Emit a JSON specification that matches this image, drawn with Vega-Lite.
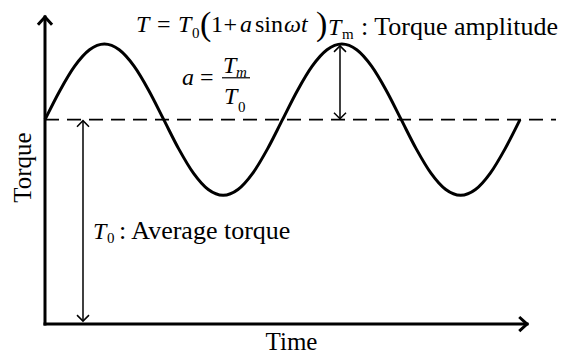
{
  "$schema": "https://vega.github.io/schema/vega-lite/v6.json",
  "width": 573,
  "height": 355,
  "padding": 0,
  "autosize": {"type": "fit", "contains": "padding"},
  "background": "white",
  "config": {"view": {"stroke": null}},
  "datasets": {
    "wave": [
      {"time": 0.0, "torque": 1.0},
      {"time": 0.0625, "torque": 1.1416},
      {"time": 0.125, "torque": 1.2616},
      {"time": 0.1875, "torque": 1.3418},
      {"time": 0.25, "torque": 1.37},
      {"time": 0.3125, "torque": 1.3418},
      {"time": 0.375, "torque": 1.2616},
      {"time": 0.4375, "torque": 1.1416},
      {"time": 0.5, "torque": 1.0},
      {"time": 0.5625, "torque": 0.8584},
      {"time": 0.625, "torque": 0.7384},
      {"time": 0.6875, "torque": 0.6582},
      {"time": 0.75, "torque": 0.63},
      {"time": 0.8125, "torque": 0.6582},
      {"time": 0.875, "torque": 0.7384},
      {"time": 0.9375, "torque": 0.8584},
      {"time": 1.0, "torque": 1.0},
      {"time": 1.0625, "torque": 1.1416},
      {"time": 1.125, "torque": 1.2616},
      {"time": 1.1875, "torque": 1.3418},
      {"time": 1.25, "torque": 1.37},
      {"time": 1.3125, "torque": 1.3418},
      {"time": 1.375, "torque": 1.2616},
      {"time": 1.4375, "torque": 1.1416},
      {"time": 1.5, "torque": 1.0},
      {"time": 1.5625, "torque": 0.8584},
      {"time": 1.625, "torque": 0.7384},
      {"time": 1.6875, "torque": 0.6582},
      {"time": 1.75, "torque": 0.63},
      {"time": 1.8125, "torque": 0.6582},
      {"time": 1.875, "torque": 0.7384},
      {"time": 1.9375, "torque": 0.8584},
      {"time": 2.0, "torque": 1.0}
    ],
    "segments": [
      {"part": "axis", "time": 0, "time2": 0, "torque": 0, "torque2": 1.5024},
      {"part": "axis", "time": 0, "time2": 2.0295, "torque": 0, "torque2": 0},
      {"part": "mean", "time": 0, "time2": 2.1516, "torque": 1, "torque2": 1},
      {"part": "dim", "time": 0.16, "time2": 0.16, "torque": 0.0146, "torque2": 0.9951},
      {"part": "dim", "time": 1.2421, "time2": 1.2421, "torque": 1.0049, "torque2": 1.361},
      {"part": "bar", "time": 0.7453, "time2": 0.8632, "torque": 1.2049, "torque2": 1.2049}
    ],
    "heads": [
      {"kind": "axis", "dir": "up", "time": 0, "torque": 1.5024},
      {"kind": "axis", "dir": "right", "time": 2.0295, "torque": 0},
      {"kind": "dim", "dir": "down", "time": 0.16, "torque": 0.0146},
      {"kind": "dim", "dir": "up", "time": 0.16, "torque": 0.9951},
      {"kind": "dim", "dir": "up", "time": 1.2421, "torque": 1.361},
      {"kind": "dim", "dir": "down", "time": 1.2421, "torque": 1.0049}
    ],
    "texts": [
      {"piece": "T", "time": 0.3832, "torque": 1.4293, "style": "var"},
      {"piece": "=", "time": 0.4716, "torque": 1.4293, "style": "rm"},
      {"piece": "T", "time": 0.56, "torque": 1.4293, "style": "var"},
      {"piece": "0", "time": 0.6189, "torque": 1.4, "style": "sub"},
      {"piece": "(", "time": 0.6526, "torque": 1.4146, "style": "paren"},
      {"piece": "1", "time": 0.6989, "torque": 1.4293, "style": "rm"},
      {"piece": "+", "time": 0.7516, "torque": 1.4293, "style": "rm"},
      {"piece": "a", "time": 0.8211, "torque": 1.4293, "style": "var"},
      {"piece": "sin", "time": 0.8842, "torque": 1.4293, "style": "rm"},
      {"piece": "ωt", "time": 1.0063, "torque": 1.4293, "style": "var"},
      {"piece": ")", "time": 1.1411, "torque": 1.4146, "style": "paren"},
      {"piece": "a", "time": 0.5768, "torque": 1.1707, "style": "var"},
      {"piece": "=", "time": 0.6526, "torque": 1.1707, "style": "rm"},
      {"piece": "T", "time": 0.7495, "torque": 1.2293, "style": "var"},
      {"piece": "m", "time": 0.8042, "torque": 1.2098, "style": "subvar"},
      {"piece": "T", "time": 0.7537, "torque": 1.078, "style": "var"},
      {"piece": "0", "time": 0.8126, "torque": 1.039, "style": "sub"},
      {"piece": "T", "time": 1.1916, "torque": 1.4146, "style": "var"},
      {"piece": "m", "time": 1.2505, "torque": 1.3951, "style": "sub"},
      {"piece": ": Torque amplitude", "time": 1.3305, "torque": 1.4146, "style": "label"},
      {"piece": "T", "time": 0.2021, "torque": 0.4146, "style": "var"},
      {"piece": "0", "time": 0.2611, "torque": 0.3951, "style": "sub"},
      {"piece": ": Average torque", "time": 0.3116, "torque": 0.4146, "style": "label"},
      {"piece": "Time", "time": 1.0379, "torque": -0.1268, "style": "xtitle"},
      {"piece": "Torque", "time": -0.0926, "torque": 0.7659, "style": "ytitle"}
    ]
  },
  "encoding": {
    "x": {"field": "time", "type": "quantitative", "axis": null,
          "scale": {"domain": [-0.18947, 2.22316], "nice": false, "zero": false}},
    "y": {"field": "torque", "type": "quantitative", "axis": null,
          "scale": {"domain": [-0.14634, 1.58537], "nice": false, "zero": false}}
  },
  "layer": [
    {
      "data": {"name": "segments"},
      "transform": [{"filter": "datum.part === 'mean'"}],
      "mark": {"type": "rule", "color": "black", "strokeWidth": 1.8, "strokeDash": [14, 8]},
      "encoding": {"x2": {"field": "time2"}, "y2": {"field": "torque2"}}
    },
    {
      "data": {"name": "wave"},
      "mark": {"type": "line", "color": "black", "strokeWidth": 3, "interpolate": "monotone"}
    },
    {
      "data": {"name": "segments"},
      "transform": [{"filter": "datum.part === 'axis'"}],
      "mark": {"type": "rule", "color": "black", "strokeWidth": 3, "strokeCap": "square"},
      "encoding": {"x2": {"field": "time2"}, "y2": {"field": "torque2"}}
    },
    {
      "data": {"name": "segments"},
      "transform": [{"filter": "datum.part === 'dim'"}],
      "mark": {"type": "rule", "color": "black", "strokeWidth": 1.5},
      "encoding": {"x2": {"field": "time2"}, "y2": {"field": "torque2"}}
    },
    {
      "data": {"name": "segments"},
      "transform": [{"filter": "datum.part === 'bar'"}],
      "mark": {"type": "rule", "color": "black", "strokeWidth": 1.2},
      "encoding": {"x2": {"field": "time2"}, "y2": {"field": "torque2"}}
    },
    {
      "data": {"name": "heads"},
      "transform": [{"filter": "datum.kind === 'axis' && datum.dir === 'up'"}],
      "mark": {"type": "point", "shape": "M-1,1.1L0,0L1,1.1", "filled": false, "color": "black", "stroke": "black",
               "strokeWidth": 3, "size": 200, "opacity": 1, "angle": 0}
    },
    {
      "data": {"name": "heads"},
      "transform": [{"filter": "datum.kind === 'axis' && datum.dir === 'right'"}],
      "mark": {"type": "point", "shape": "M-1,1.1L0,0L1,1.1", "filled": false, "color": "black", "stroke": "black",
               "strokeWidth": 3, "size": 200, "opacity": 1, "angle": 90}
    },
    {
      "data": {"name": "heads"},
      "transform": [{"filter": "datum.kind === 'dim' && datum.dir === 'up'"}],
      "mark": {"type": "point", "shape": "M-1,1L0,0L1,1", "filled": false, "color": "black", "stroke": "black",
               "strokeWidth": 1.5, "size": 144, "opacity": 1, "angle": 0}
    },
    {
      "data": {"name": "heads"},
      "transform": [{"filter": "datum.kind === 'dim' && datum.dir === 'down'"}],
      "mark": {"type": "point", "shape": "M-1,1L0,0L1,1", "filled": false, "color": "black", "stroke": "black",
               "strokeWidth": 1.5, "size": 144, "opacity": 1, "angle": 180}
    },
    {
      "data": {"name": "texts"},
      "transform": [{"filter": "datum.style === 'var'"}],
      "mark": {"type": "text", "font": "Liberation Serif", "fontStyle": "italic", "fontSize": 24,
               "align": "left", "baseline": "alphabetic", "color": "black"},
      "encoding": {"text": {"field": "piece"}}
    },
    {
      "data": {"name": "texts"},
      "transform": [{"filter": "datum.style === 'rm'"}],
      "mark": {"type": "text", "font": "Liberation Serif", "fontSize": 24,
               "align": "left", "baseline": "alphabetic", "color": "black"},
      "encoding": {"text": {"field": "piece"}}
    },
    {
      "data": {"name": "texts"},
      "transform": [{"filter": "datum.style === 'sub'"}],
      "mark": {"type": "text", "font": "Liberation Serif", "fontSize": 15,
               "align": "left", "baseline": "alphabetic", "color": "black"},
      "encoding": {"text": {"field": "piece"}}
    },
    {
      "data": {"name": "texts"},
      "transform": [{"filter": "datum.style === 'subvar'"}],
      "mark": {"type": "text", "font": "Liberation Serif", "fontStyle": "italic", "fontSize": 15,
               "align": "left", "baseline": "alphabetic", "color": "black"},
      "encoding": {"text": {"field": "piece"}}
    },
    {
      "data": {"name": "texts"},
      "transform": [{"filter": "datum.style === 'paren'"}],
      "mark": {"type": "text", "font": "Liberation Serif", "fontSize": 34,
               "align": "left", "baseline": "alphabetic", "color": "black"},
      "encoding": {"text": {"field": "piece"}}
    },
    {
      "data": {"name": "texts"},
      "transform": [{"filter": "datum.style === 'label'"}],
      "mark": {"type": "text", "font": "Liberation Serif", "fontSize": 26,
               "align": "left", "baseline": "alphabetic", "color": "black"},
      "encoding": {"text": {"field": "piece"}}
    },
    {
      "data": {"name": "texts"},
      "transform": [{"filter": "datum.style === 'xtitle'"}],
      "mark": {"type": "text", "font": "Liberation Serif", "fontSize": 25,
               "align": "center", "baseline": "alphabetic", "color": "black"},
      "encoding": {"text": {"field": "piece"}}
    },
    {
      "data": {"name": "texts"},
      "transform": [{"filter": "datum.style === 'ytitle'"}],
      "mark": {"type": "text", "font": "Liberation Serif", "fontSize": 25, "angle": 270,
               "align": "center", "baseline": "middle", "color": "black", "fill": "black"},
      "encoding": {"text": {"field": "piece"}}
    }
  ]
}
